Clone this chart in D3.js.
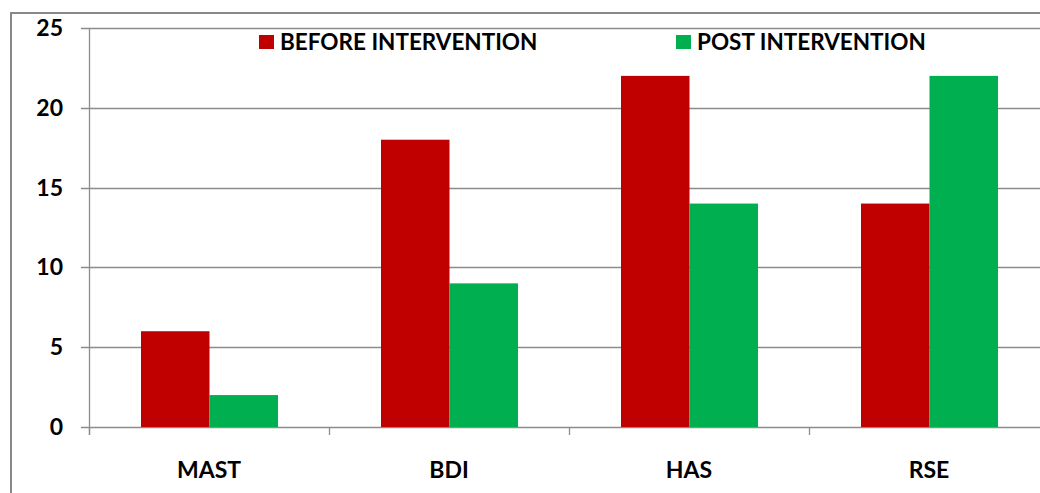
<!DOCTYPE html>
<html>
<head>
<meta charset="utf-8">
<script src="https://cdn.jsdelivr.net/npm/d3@7"></script>
<style>
  body { margin: 0; background: #fff; }
  text { font-family: Lato, "Open Sans", sans-serif; font-weight: bold; fill: #000; }
</style>
</head>
<body>
<svg id="chart" width="1040" height="493"></svg>
<script>
var categories = ["MAST", "BDI", "HAS", "RSE"];
var seriesNames = ["BEFORE INTERVENTION", "POST INTERVENTION"];
var beforeValues = [6, 18, 22, 14];
var postValues = [2, 9, 14, 22];
var yTicks = [0, 5, 10, 15, 20, 25];
var colors = ["#C00000", "#00B050"];

var svg = d3.select("#chart");
var plotLeft = 89, plotRight = 1049, plotTop = 28, plotBottom = 427;
var gridColor = "#8c8c8c";

// outer chart frame (runs off the window on the right and bottom)
svg.append("rect")
	.attr("x", 11).attr("y", 13)
	.attr("width", 1100).attr("height", 600)
	.attr("fill", "none")
	.attr("stroke", "#888")
	.attr("stroke-width", 2);

var y = d3.scaleLinear().domain([0, 25]).range([plotBottom, plotTop]);
var x0 = d3.scaleBand().domain(categories).range([plotLeft, plotRight]);
var x1 = d3.scaleBand().domain(seriesNames).range([52, x0.bandwidth() - 51]);

// gridlines with small ticks left of the axis
svg.append("g")
	.selectAll("line")
	.data(yTicks)
	.join("line")
	.attr("x1", plotLeft - 8).attr("x2", 1040)
	.attr("y1", function(d) { return Math.round(y(d)) + 0.5; })
	.attr("y2", function(d) { return Math.round(y(d)) + 0.5; })
	.attr("stroke", gridColor)
	.attr("stroke-width", 1.3);

// y axis line
svg.append("line")
	.attr("x1", plotLeft + 0.5).attr("x2", plotLeft + 0.5)
	.attr("y1", plotTop).attr("y2", plotBottom + 8)
	.attr("stroke", gridColor).attr("stroke-width", 1.3);

// tick marks between categories
svg.append("g")
	.selectAll("line")
	.data(d3.range(categories.length + 1))
	.join("line")
	.attr("x1", function(i) { return plotLeft + i * x0.bandwidth() + 0.5; })
	.attr("x2", function(i) { return plotLeft + i * x0.bandwidth() + 0.5; })
	.attr("y1", plotBottom).attr("y2", plotBottom + 8)
	.attr("stroke", gridColor).attr("stroke-width", 1.3);

// y labels
svg.append("g")
	.selectAll("text")
	.data(yTicks)
	.join("text")
	.attr("x", 63)
	.attr("y", function(d) { return y(d) + 8; })
	.attr("text-anchor", "end")
	.style("font-size", "23px")
	.text(function(d) { return d; });

// bars
var rows = categories.map(function(c, i) {
	return { cat: c, values: [beforeValues[i], postValues[i]] };
});

var groups = svg.append("g")
	.selectAll("g")
	.data(rows)
	.join("g")
	.attr("transform", function(d) { return "translate(" + x0(d.cat) + ",0)"; });

groups.selectAll("rect")
	.data(function(d) {
		return d.values.map(function(v, j) { return { name: seriesNames[j], value: v, j: j }; });
	})
	.join("rect")
	.attr("x", function(d) { return x1(d.name); })
	.attr("width", x1.bandwidth())
	.attr("y", function(d) { return y(d.value); })
	.attr("height", function(d) { return plotBottom - y(d.value); })
	.attr("fill", function(d) { return colors[d.j]; });

// category labels
svg.append("g")
	.selectAll("text")
	.data(categories)
	.join("text")
	.attr("x", function(d) { return x0(d) + x0.bandwidth() / 2; })
	.attr("y", 478)
	.attr("text-anchor", "middle")
	.style("font-size", "23px")
	.text(function(d) { return d; });

// legend
var legendX = [259, 676];
var legend = svg.append("g")
	.selectAll("g")
	.data(seriesNames)
	.join("g")
	.attr("transform", function(d, i) { return "translate(" + legendX[i] + ",35)"; });

legend.append("rect")
	.attr("width", 15).attr("height", 14)
	.attr("fill", function(d, i) { return colors[i]; });

legend.append("text")
	.attr("x", 21).attr("y", 15)
	.style("font-size", "22.5px")
	.text(function(d) { return d; });
</script>
</body>
</html>
